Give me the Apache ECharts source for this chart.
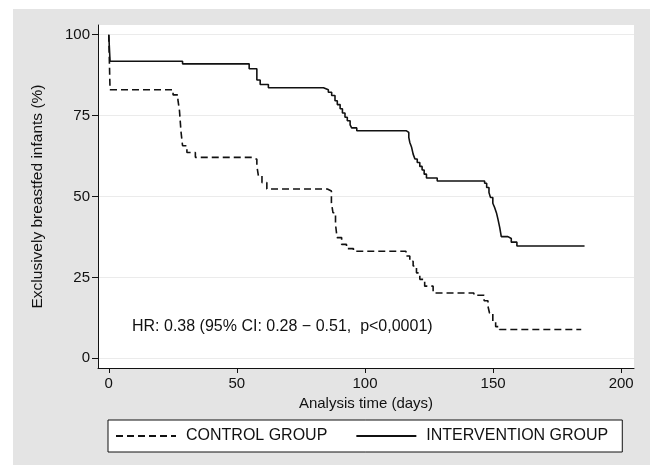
<!DOCTYPE html>
<html>
<head>
<meta charset="utf-8">
<script src="https://cdn.jsdelivr.net/npm/echarts@6/dist/echarts.min.js"></script>
<style>
  html, body { margin: 0; padding: 0; background: #fff; }
  #chart { position: absolute; left: 13px; top: 9px; width: 637px; height: 456px; }
</style>
</head>
<body>
<div id="chart"></div>
<script>
// Kaplan-Meier curves (day, % still exclusively breastfed)
const controlDays = [0, 0.5, 25.1, 27.0, 27.6, 28.2, 28.8, 30.5, 33.8,
  55.9, 57.8, 58.4, 59.8, 61.7,
  85.3, 86.9, 87.5, 88.5, 89.1, 90.9, 92.8, 95.5,
  116.0, 117.5, 118.8, 120.1, 121.4, 123.3, 126.6,
  142.5, 146.5, 148.0, 148.6, 149.9, 151.0, 152.5, 184.4];
const controlPct = [100, 83.0, 81.4, 79.8, 76.5, 70.0, 65.7, 63.6, 62.1,
  61.5, 59.5, 56.4, 54.3, 52.3,
  51.7, 48.1, 45.0, 41.4, 37.3, 35.2, 33.9, 33.1,
  31.6, 30.0, 28.5, 26.4, 24.4, 22.3, 20.2,
  19.5, 17.8, 16.1, 14.0, 11.4, 9.8, 8.9, 8.9];

const interventionDays = [0, 0.5, 28.8, 54.8, 57.8, 59.1, 62.3,
  83.8, 85.7, 87.0, 88.3, 89.2, 90.3, 91.2, 92.2, 93.1, 94.2, 94.8, 96.8,
  116.2, 117.1, 117.5, 118.2, 118.8, 119.5, 120.4, 121.4, 122.3, 123.1, 124.0, 128.2,
  146.7, 147.5, 148.4, 149.0, 149.9, 150.6, 151.3, 151.9, 152.6, 153.2, 155.8, 157.1, 159.3,
  185.7];
const interventionPct = [100, 91.8, 91.0, 89.5, 86.0, 84.6, 83.6,
  83.0, 82.2, 81.2, 79.6, 78.4, 77.1, 75.8, 74.5, 73.4, 72.1, 71.2, 70.3,
  69.8, 68.3, 66.7, 65.2, 63.1, 61.6, 60.5, 59.3, 58.2, 56.9, 55.7, 54.8,
  54.1, 52.8, 51.2, 49.7, 47.9, 46.6, 45.0, 43.0, 40.4, 37.6, 37.0, 35.9, 34.7,
  34.7];

const xTicks = [0, 50, 100, 150, 200];
const yTicks = [0, 25, 50, 75, 100];
const seriesNames = ['CONTROL GROUP', 'INTERVENTION GROUP'];
const hrText = 'HR: 0.38 (95% CI: 0.28 \u2212 0.51,  p<0,0001)';

const FONT = '"Liberation Sans", Arial, sans-serif';
const INK = '#111';

const zip = (xs, ys) => xs.map((x, i) => [x, ys[i]]);

const chart = echarts.init(document.getElementById('chart'), null, { renderer: 'canvas' });

chart.setOption({
  animation: false,
  backgroundColor: '#e4e4e4',
  textStyle: { fontFamily: FONT },
  grid: {
    left: 85, right: 16, top: 16, bottom: 97,
    show: true, backgroundColor: '#fff', borderWidth: 0
  },
  xAxis: {
    type: 'value',
    min: -4.2, max: 205,
    name: 'Analysis time (days)',
    nameLocation: 'middle',
    nameGap: 21,
    nameTextStyle: { color: INK, fontSize: 15, fontFamily: FONT },
    axisLine: { show: true, onZero: false, lineStyle: { color: INK, width: 1 } },
    axisTick: { show: true, length: 5, customValues: xTicks, lineStyle: { color: INK } },
    axisLabel: { customValues: xTicks, color: INK, fontSize: 15, margin: 8, fontFamily: FONT },
    splitLine: { show: false }
  },
  yAxis: {
    type: 'value',
    min: -3, max: 103,
    name: 'Exclusively breastfed infants (%)',
    nameLocation: 'middle',
    nameGap: 44,
    nameTextStyle: { color: INK, fontSize: 15.5, fontFamily: FONT, padding: [0, 0, 8, 0] },
    axisLine: { show: true, onZero: false, lineStyle: { color: INK, width: 1 } },
    axisTick: { show: true, length: 6, customValues: yTicks, lineStyle: { color: INK } },
    axisLabel: { customValues: yTicks, color: INK, fontSize: 15, margin: 8, fontFamily: FONT },
    splitLine: { show: true, lineStyle: { color: '#ebebeb', width: 1 } }
  },
  legend: {
    left: 95, top: 411,
    orient: 'horizontal',
    itemWidth: 60, itemHeight: 14,
    itemGap: 28,
    padding: [8, 14, 8, 7],
    backgroundColor: '#fff',
    borderColor: INK, borderWidth: 1, borderRadius: 0,
    itemStyle: { opacity: 0 },
    textStyle: { color: INK, fontSize: 16, fontFamily: FONT, padding: [0, 0, 0, 5] },
    data: seriesNames
  },
  graphic: [{
    type: 'text',
    x: 119, y: 318,
    silent: true,
    style: {
      text: hrText, fill: INK, font: '16px ' + FONT,
      textAlign: 'left', textVerticalAlign: 'middle'
    }
  }],
  series: [
    {
      name: seriesNames[0],
      type: 'line',
      step: 'end',
      symbol: 'none',
      data: zip(controlDays, controlPct),
      lineStyle: { color: INK, width: 1.6, type: [7, 4] },
      itemStyle: { color: INK }
    },
    {
      name: seriesNames[1],
      type: 'line',
      step: 'end',
      symbol: 'none',
      data: zip(interventionDays, interventionPct),
      lineStyle: { color: INK, width: 1.6, type: 'solid' },
      itemStyle: { color: INK }
    }
  ]
});
</script>
</body>
</html>
